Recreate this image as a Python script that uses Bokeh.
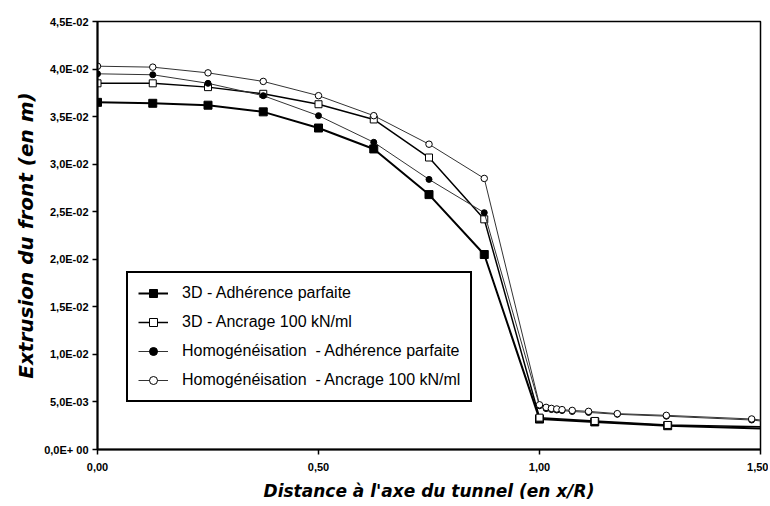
from bokeh.plotting import figure
from bokeh.models import Range1d, FixedTicker, Legend, LegendItem
from bokeh.embed import file_html
from bokeh.resources import INLINE

# ---- data ----
x_3d = [0.0, 0.125, 0.25, 0.375, 0.5, 0.625, 0.75, 0.875, 1.0, 1.125, 1.29, 1.5]
y_3d_adh = [0.0365, 0.0364, 0.0362, 0.0355, 0.0338, 0.0316, 0.0268, 0.0205,
            0.0032, 0.0029, 0.0025, 0.0022]
y_3d_anc = [0.0385, 0.0385, 0.0381, 0.0374, 0.0363, 0.0347, 0.0307, 0.0242,
            0.00335, 0.0030, 0.00258, 0.0024]

x_hom = [0.0, 0.125, 0.25, 0.375, 0.5, 0.625, 0.75, 0.875, 1.0, 1.015, 1.027,
         1.039, 1.051, 1.074, 1.111, 1.176, 1.287, 1.48, 1.5]
y_hom_adh = [0.0395, 0.0394, 0.0385, 0.0372, 0.0351, 0.0323, 0.0284, 0.0249,
             0.0046, 0.0043, 0.0042, 0.00415, 0.0041, 0.0040, 0.0039, 0.0037,
             0.0035, 0.0031, 0.0030]
y_hom_anc = [0.0403, 0.0402, 0.0396, 0.0387, 0.0372, 0.0351, 0.0321, 0.0285,
             0.0047, 0.00443, 0.00432, 0.00426, 0.00419, 0.00411, 0.00401,
             0.00377, 0.00359, 0.00321, 0.0031]

series_names = ["3D - Adhérence parfaite",
                "3D - Ancrage 100 kN/ml",
                "Homogénéisation  - Adhérence parfaite",
                "Homogénéisation  - Ancrage 100 kN/ml"]

y_ticks = [0.0, 0.005, 0.01, 0.015, 0.02, 0.025, 0.03, 0.035, 0.04, 0.045]
y_tick_labels = ["0,0E+ 00", "5,0E-03", "1,0E-02", "1,5E-02", "2,0E-02",
                 "2,5E-02", "3,0E-02", "3,5E-02", "4,0E-02", "4,5E-02"]
x_ticks = [0.0, 0.5, 1.0, 1.5]
x_tick_labels = ["0,00", "0,50", "1,00", "1,50"]

x_title = "Distance à l'axe du tunnel (en x/R)"
y_title = "Extrusion du front (en m)"

FONT = "Liberation Sans"
TFONT = "DejaVu Sans"

p = figure(width=768, height=504, output_backend="svg", toolbar_location=None,
           x_range=Range1d(0, 1.5), y_range=Range1d(0, 0.045),
           min_border_left=97, min_border_right=8, min_border_top=21,
           min_border_bottom=55)
p.grid.visible = False
p.outline_line_color = "black"
p.outline_line_width = 1.5
p.outline_line_alpha = 1
p.background_fill_color = "white"
p.border_fill_color = "white"

for ax, ticks, labels in ((p.xaxis[0], x_ticks, x_tick_labels),
                          (p.yaxis[0], y_ticks, y_tick_labels)):
    ax.ticker = FixedTicker(ticks=ticks)
    ax.major_label_overrides = {t: l for t, l in zip(ticks, labels)}
    ax.minor_tick_line_color = None
    ax.major_tick_out = 5
    ax.major_tick_in = 0
    ax.axis_line_width = 2
    ax.major_tick_line_width = 1.5
    ax.major_label_text_font = FONT
    ax.major_label_text_font_style = "bold"
    ax.major_label_text_font_size = "11px"
    ax.major_label_text_color = "black"
    ax.axis_label_text_font = TFONT
    ax.axis_label_text_font_style = "bold italic"
    ax.axis_label_text_color = "black"

p.xaxis[0].axis_label = x_title
p.xaxis[0].axis_label_text_font_size = "17px"
p.xaxis[0].major_label_standoff = 8
p.xaxis[0].axis_label_standoff = 7
p.yaxis[0].axis_label = y_title
p.yaxis[0].axis_label_text_font_size = "20px"
p.yaxis[0].major_label_standoff = 4
p.yaxis[0].axis_label_standoff = 3

items = []
# 3D - adherence (filled squares)
l1 = p.line(x_3d, y_3d_adh, line_color="black", line_width=2)
m1 = p.scatter(x_3d[:-1], y_3d_adh[:-1], marker="square", size=8,
               fill_color="black", line_color="black")
# 3D - ancrage (open squares)
l2 = p.line(x_3d, y_3d_anc, line_color="black", line_width=1.5)
m2 = p.scatter(x_3d[:-1], y_3d_anc[:-1], marker="square", size=7,
               fill_color="white", line_color="black", line_width=1)
# Homog - adherence (filled circles)
l3 = p.line(x_hom, y_hom_adh, line_color="#333333", line_width=1)
m3 = p.scatter(x_hom[:-1], y_hom_adh[:-1], marker="circle", size=6,
               fill_color="black", line_color="black")
# Homog - ancrage (open circles)
l4 = p.line(x_hom, y_hom_anc, line_color="#333333", line_width=1)
m4 = p.scatter(x_hom[:-1], y_hom_anc[:-1], marker="circle", size=6.5,
               fill_color="white", line_color="black", line_width=1)

for name, rs in zip(series_names, [[l1, m1], [l2, m2], [l3, m3], [l4, m4]]):
    items.append(LegendItem(label=name, renderers=rs))

legend = Legend(items=items, location=(29, 47))
legend.label_text_font = FONT
legend.label_text_font_size = "16px"
legend.label_text_color = "black"
legend.label_height = 20
legend.glyph_height = 20
legend.glyph_width = 30
legend.label_standoff = 14
legend.spacing = 9
legend.padding = 10
legend.margin = 0
legend.border_line_color = "black"
legend.border_line_alpha = 1
legend.border_line_width = 2
legend.background_fill_color = "white"
legend.background_fill_alpha = 1
p.add_layout(legend, "center")

open("out.html", "w").write(file_html(p, INLINE))
